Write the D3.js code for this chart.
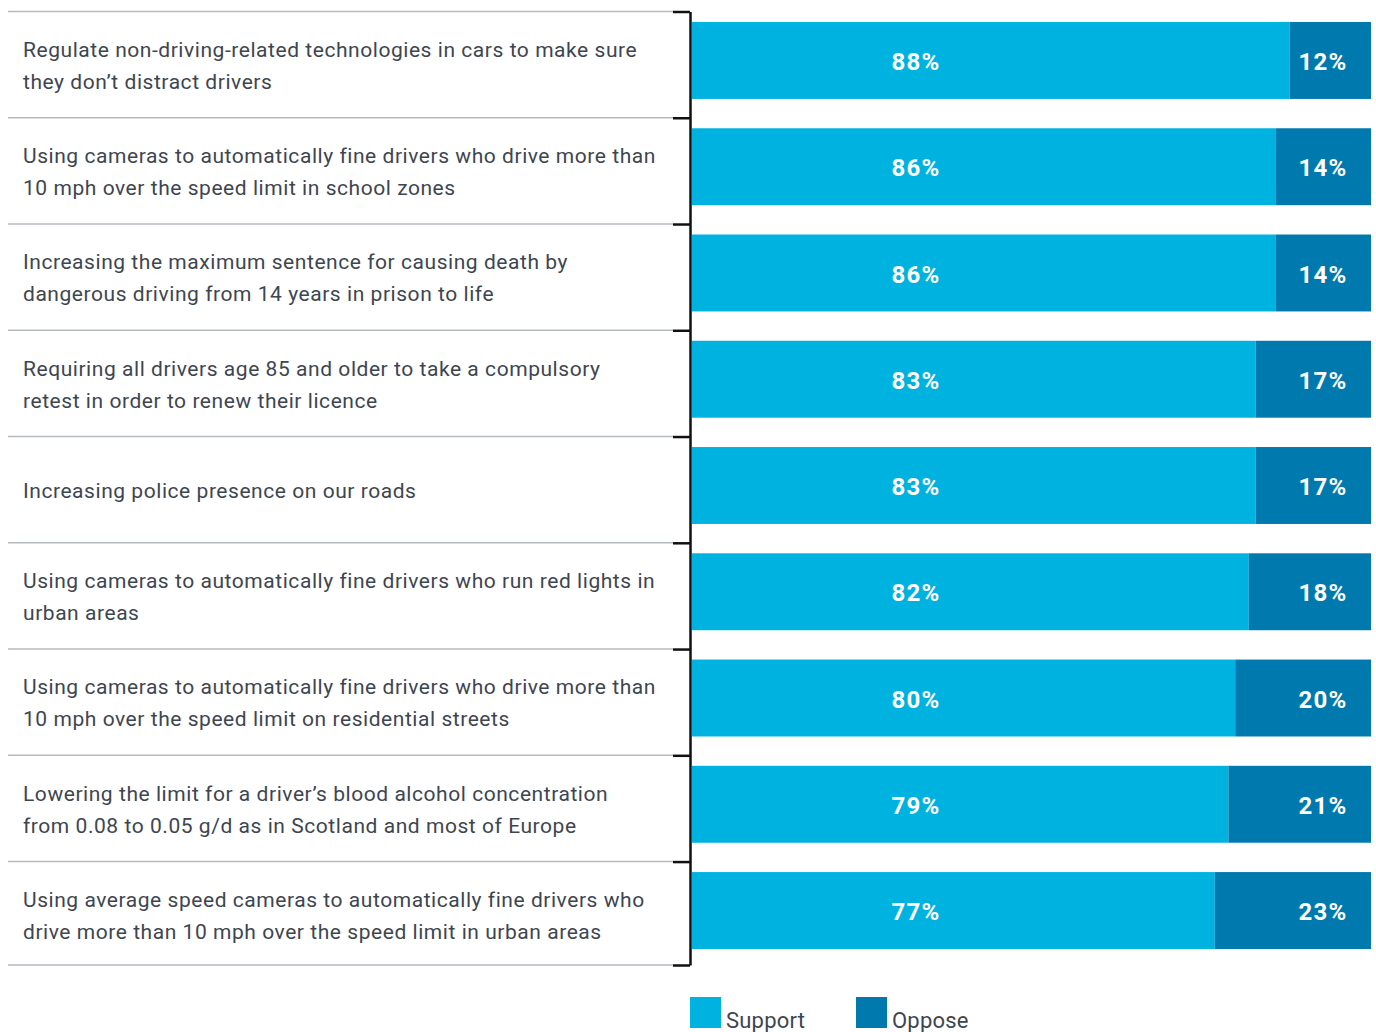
<!DOCTYPE html>
<html>
<head>
<meta charset="utf-8">
<script src="https://cdn.jsdelivr.net/npm/d3@7"></script>
<style>
  html, body { margin: 0; padding: 0; background: #fff; }
  svg { display: block; }
</style>
</head>
<body>
<svg id="chart" width="1376" height="1032"></svg>
<script>
// Survey statements (line breaks mark where each label wraps)
const categories = [
  "Regulate non-driving-related technologies in cars to make sure\nthey don\u2019t distract drivers",
  "Using cameras to automatically fine drivers who drive more than\n10 mph over the speed limit in school zones",
  "Increasing the maximum sentence for causing death by\ndangerous driving from 14 years in prison to life",
  "Requiring all drivers age 85 and older to take a compulsory\nretest in order to renew their licence",
  "Increasing police presence on our roads",
  "Using cameras to automatically fine drivers who run red lights in\nurban areas",
  "Using cameras to automatically fine drivers who drive more than\n10 mph over the speed limit on residential streets",
  "Lowering the limit for a driver\u2019s blood alcohol concentration\nfrom 0.08 to 0.05 g/d as in Scotland and most of Europe",
  "Using average speed cameras to automatically fine drivers who\ndrive more than 10 mph over the speed limit in urban areas"
];
const support = [88, 86, 86, 83, 83, 82, 80, 79, 77];
const oppose  = [12, 14, 14, 17, 17, 18, 20, 21, 23];
const seriesNames = ["Support", "Oppose"];
const seriesColors = ["#00b2e0", "#0079ae"];

const svg = d3.select("#chart");
const font = "Roboto, 'Noto Sans', sans-serif";

const axisX = 690;
const x = d3.scaleLinear().domain([0, 100]).range([692, 1371]);
const y = d3.scaleBand().domain(d3.range(categories.length)).range([22, 949]).paddingInner(0.276).paddingOuter(0);

const rows = categories.map((c, i) => ({ i, label: c, support: support[i], oppose: oppose[i] }));
const stacked = d3.stack().keys(["support", "oppose"])(rows);

// Row boundaries: a little above each bar, plus one below the last bar
const edges = rows.map(d => y(d.i) - 10.5).concat([y(categories.length - 1) + y.bandwidth() + 16]);

svg.append("g").selectAll("line").data(edges).join("line")
  .attr("x1", 8).attr("x2", axisX - 17)
  .attr("y1", d => d).attr("y2", d => d)
  .attr("stroke", "#b4b9bf").attr("stroke-width", 1.5);

// Category axis with ticks at the row edges
const edgeScale = d3.scaleOrdinal().domain(d3.range(edges.length)).range(edges);
const axis = d3.axisLeft(edgeScale).tickSize(17).tickFormat("").tickSizeOuter(0);
const axisG = svg.append("g").attr("transform", `translate(${axisX},0)`).call(axis);
axisG.select(".domain").attr("stroke", "#111").attr("stroke-width", 2.5);
axisG.selectAll(".tick line").attr("stroke", "#111").attr("stroke-width", 2.5);

// Stacked bars
svg.append("g").selectAll("g").data(stacked).join("g")
  .attr("fill", (d, k) => seriesColors[k])
  .selectAll("rect").data(d => d).join("rect")
  .attr("x", d => x(d[0]))
  .attr("width", d => x(d[1]) - x(d[0]))
  .attr("y", d => y(d.data.i))
  .attr("height", y.bandwidth());

// Value labels
const labels = svg.append("g")
  .attr("font-family", font).attr("font-weight", 700).attr("font-size", 24)
  .attr("letter-spacing", 1.3)
  .attr("fill", "#fff").attr("text-anchor", "middle");
labels.selectAll("text.s").data(rows).join("text").attr("class", "s")
  .attr("x", 916).attr("y", d => y(d.i) + y.bandwidth() / 2 + 1).attr("dy", "0.36em")
  .text(d => d.support + "%");
labels.selectAll("text.o").data(rows).join("text").attr("class", "o")
  .attr("x", 1323).attr("y", d => y(d.i) + y.bandwidth() / 2 + 1).attr("dy", "0.36em")
  .text(d => d.oppose + "%");

// Category text
const catG = svg.append("g")
  .attr("font-family", font).attr("font-size", 21).attr("letter-spacing", 0.55)
  .attr("fill", "#3d4650");
rows.forEach(d => {
  const lines = d.label.split("\n");
  const cy = y(d.i) + y.bandwidth() / 2 + 5;
  const lh = 32;
  const t = catG.append("text").attr("x", 23);
  lines.forEach((ln, j) => {
    t.append("tspan").attr("x", 23)
      .attr("y", cy + (j - (lines.length - 1) / 2) * lh)
      .attr("dy", "0.35em").text(ln);
  });
});

// Legend
const legend = svg.append("g").attr("font-family", font).attr("font-size", 22)
  .attr("letter-spacing", 0.2).attr("fill", "#3d4650");
const legendX = [690, 856];
seriesNames.forEach((name, k) => {
  legend.append("rect").attr("x", legendX[k]).attr("y", 997).attr("width", 31).attr("height", 31)
    .attr("fill", seriesColors[k]);
  legend.append("text").attr("x", legendX[k] + 36).attr("y", 1028).text(name);
});
</script>
</body>
</html>
